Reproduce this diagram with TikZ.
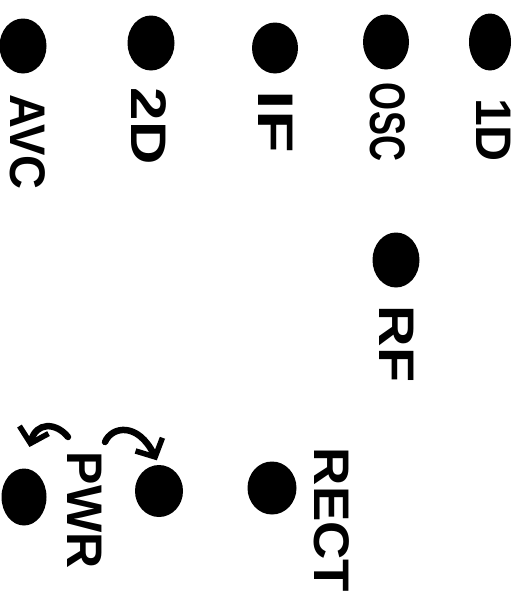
\documentclass[tikz,border=0pt]{standalone}
\usepackage{fontspec}
\setmainfont{Liberation Sans}
\usepackage{tikz}
\usetikzlibrary{arrows.meta,shapes.geometric}

\begin{document}
\begin{tikzpicture}[x=1pt, y=-1pt,
    dot/.style={ellipse, fill=black, inner sep=0pt, minimum width=47pt, minimum height=55pt},
    tag/.style={rotate=-90, inner sep=0pt, font=\fontsize{50}{52}\selectfont\bfseries},
    bent/.style={line width=6.5pt, line cap=round, -{Straight Barb[length=14pt, width=30pt, line width=5.5pt]}}]
    \useasboundingbox (0,0) rectangle (532,597);
    % top row
    \node[dot] (avc) at (23,46) {};
    \node[dot] (twod) at (151,43) {};
    \node[dot, minimum width=46pt, minimum height=51pt] (ifr) at (275,48) {};
    \node[dot, minimum width=46pt] (osc) at (386,42) {};
    \node[dot, minimum width=42pt, minimum height=57pt] (oned) at (490,42) {};
    \node[tag, xscale=0.94] (avcl) at (28,142) {AVC};
    \node[tag, xscale=1.2] (twodl) at (149,126) {2D};
    \node[tag, xscale=1.4] (ifrl) at (276,122) {IF};
    \node[tag, xscale=0.72] (oscl) at (388,122) {OSC};
    \node[tag] (onedl) at (494,130) {1D};
    % middle
    \node[dot] (rf) at (396,260) {};
    \node[tag, xscale=1.15] (rfl) at (397,344) {RF};
    % bottom row
    \node[dot, minimum width=45pt, minimum height=57pt] (pwra) at (24,497) {};
    \node[dot, minimum width=48pt, minimum height=52pt] (pwrb) at (159,491) {};
    \node[dot, minimum width=49pt, minimum height=53pt] (rect) at (272,488) {};
    \node[tag] (pwrl) at (85,510) {PWR};
    \node[tag, xscale=1.06] (rectl) at (332,520) {RECT};
    \coordinate (pa) at (68,437);
    \coordinate (pb) at (105,442);
    \draw[bent, shorten >=22pt] (pa) .. controls (56,422) and (36,422) .. (pwra.north);
    \draw[bent, shorten >=5pt] (pb) .. controls (112,426) and (138,422) .. (pwrb.north);
\end{tikzpicture}
\end{document}
